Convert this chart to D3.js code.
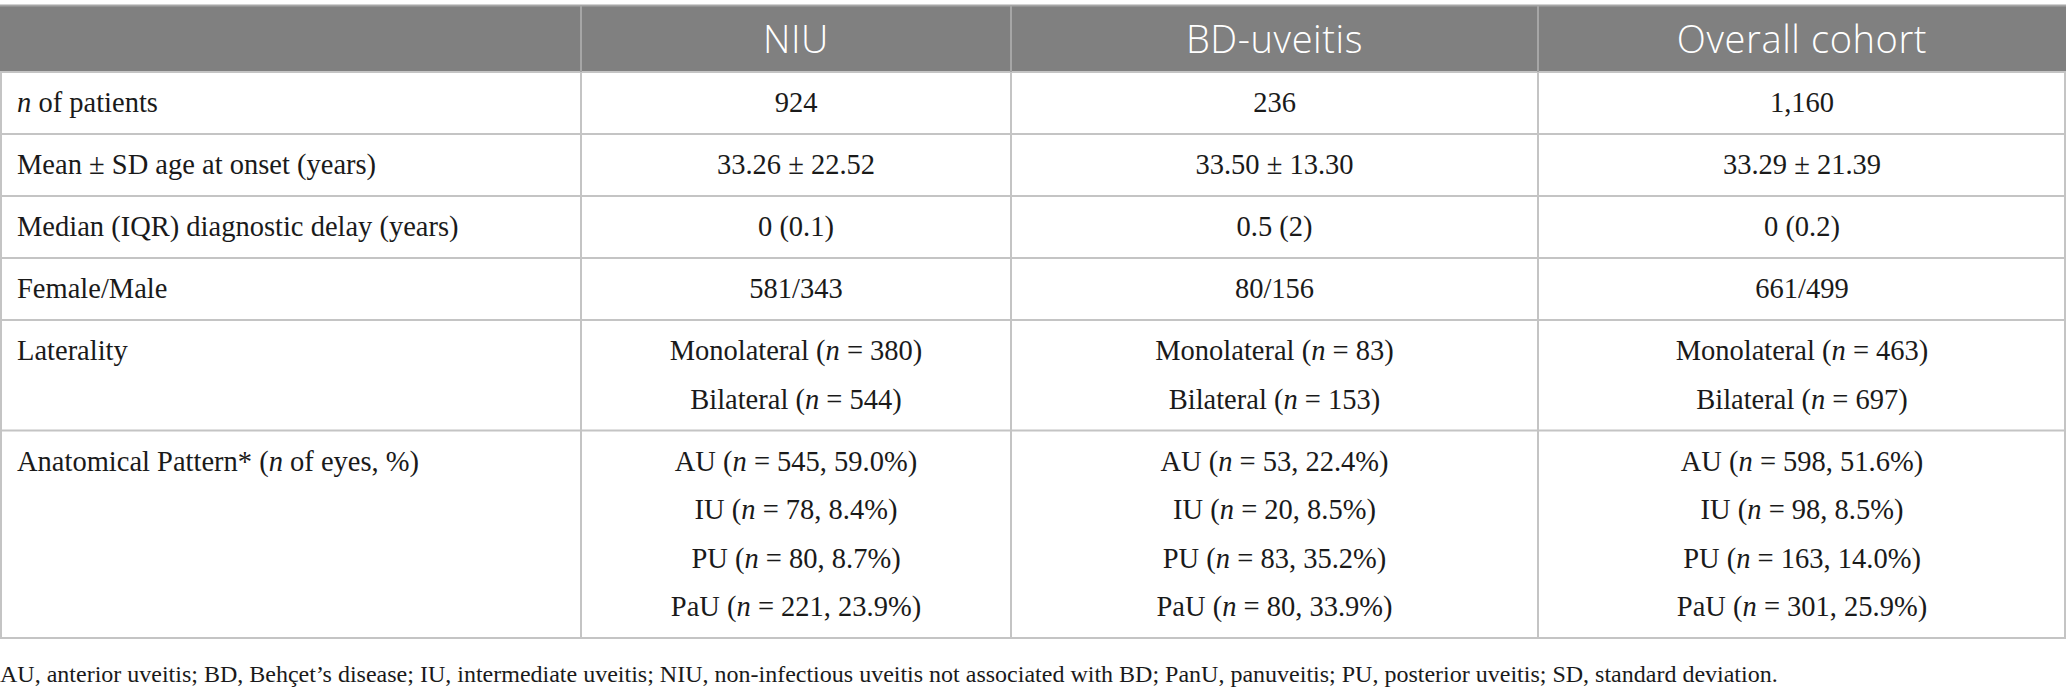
<!DOCTYPE html>
<html>
<head>
<meta charset="utf-8">
<script src="https://cdn.jsdelivr.net/npm/d3@7"></script>
<style>
  body { margin: 0; background: #fff; }
  svg { display: block; }
</style>
</head>
<body>
<svg id="chart" width="2067" height="693"></svg>
<script>
// table content (_n_ marks an italic n)
var columns = ["NIU", "BD-uveitis", "Overall cohort"];
var rowLabels = [
    "_n_ of patients",
    "Mean ± SD age at onset (years)",
    "Median (IQR) diagnostic delay (years)",
    "Female/Male",
    "Laterality",
    "Anatomical Pattern* (_n_ of eyes, %)"
];
var niu = [
    ["924"],
    ["33.26 ± 22.52"],
    ["0 (0.1)"],
    ["581/343"],
    ["Monolateral (_n_ = 380)", "Bilateral (_n_ = 544)"],
    ["AU (_n_ = 545, 59.0%)", "IU (_n_ = 78, 8.4%)", "PU (_n_ = 80, 8.7%)", "PaU (_n_ = 221, 23.9%)"]
];
var bdUveitis = [
    ["236"],
    ["33.50 ± 13.30"],
    ["0.5 (2)"],
    ["80/156"],
    ["Monolateral (_n_ = 83)", "Bilateral (_n_ = 153)"],
    ["AU (_n_ = 53, 22.4%)", "IU (_n_ = 20, 8.5%)", "PU (_n_ = 83, 35.2%)", "PaU (_n_ = 80, 33.9%)"]
];
var overall = [
    ["1,160"],
    ["33.29 ± 21.39"],
    ["0 (0.2)"],
    ["661/499"],
    ["Monolateral (_n_ = 463)", "Bilateral (_n_ = 697)"],
    ["AU (_n_ = 598, 51.6%)", "IU (_n_ = 98, 8.5%)", "PU (_n_ = 163, 14.0%)", "PaU (_n_ = 301, 25.9%)"]
];
var footnote = "AU, anterior uveitis; BD, Behçet’s disease; IU, intermediate uveitis; NIU, non-infectious uveitis not associated with BD; PanU, panuveitis; PU, posterior uveitis; SD, standard deviation.";

var svg = d3.select("#chart");

var tableTop = 5, headerH = 67, baseRowH = 62, lineGap = 48.5;
var colWidths = [581, 430, 527, 528];
var serif = "'Liberation Serif', 'Times New Roman', serif";
var sans = "'Open Sans', 'Noto Sans', sans-serif";

// column edges through ordinal scales
var colKeys = ["label"].concat(columns);
var colEdges = d3.cumsum([0].concat(colWidths));
var xLeft = d3.scaleOrdinal().domain(colKeys).range(colEdges.slice(0, 4));
var xWidth = d3.scaleOrdinal().domain(colKeys).range(colWidths);
var tableRight = colEdges[4];

var seriesByCol = { "NIU": niu, "BD-uveitis": bdUveitis, "Overall cohort": overall };

// rows: heights depend on number of lines
var rows = rowLabels.map(function (lab, i) {
    var n = d3.max(columns, function (c) { return seriesByCol[c][i].length; });
    return { label: lab, lines: n, h: baseRowH + (n - 1) * lineGap, idx: i };
});
var rowTops = d3.cumsum([tableTop + headerH].concat(rows.map(function (r) { return r.h; })));
var yTop = d3.scaleOrdinal().domain(d3.range(rows.length)).range(rowTops.slice(0, rows.length));
var tableBottom = rowTops[rows.length];

// header background
svg.append("rect")
    .attr("x", 0).attr("y", tableTop)
    .attr("width", tableRight).attr("height", headerH)
    .attr("fill", "#808080");

svg.append("line")
    .attr("x1", 0).attr("x2", tableRight)
    .attr("y1", tableTop + 0.5).attr("y2", tableTop + 0.5)
    .attr("stroke", "#a6a6a6").attr("stroke-width", 2);

// header text
svg.selectAll(".head")
    .data(columns)
    .enter().append("text")
    .attr("x", function (d) { return xLeft(d) + xWidth(d) / 2; })
    .attr("y", tableTop + headerH / 2 + 14)
    .attr("text-anchor", "middle")
    .attr("fill", "#fff")
    .style("font-family", sans)
    .style("font-weight", 300)
    .style("font-size", "38px")
    .style("letter-spacing", "0.6px")
    .text(function (d) { return d; });

// horizontal row lines
svg.selectAll(".hline")
    .data(rowTops)
    .enter().append("line")
    .attr("x1", 0).attr("x2", tableRight)
    .attr("y1", function (d) { return d; }).attr("y2", function (d) { return d; })
    .attr("stroke", "#c4c4c4").attr("stroke-width", 2);

// vertical lines
svg.selectAll(".vline")
    .data(colEdges)
    .enter().append("line")
    .attr("x1", function (d) { return d === 0 ? 1 : (d === tableRight ? tableRight - 1 : d); })
    .attr("x2", function (d) { return d === 0 ? 1 : (d === tableRight ? tableRight - 1 : d); })
    .attr("y1", function (d) { return (d === 0 || d === tableRight) ? tableTop + headerH : tableTop; })
    .attr("y2", tableBottom)
    .attr("stroke", "#c4c4c4")
    .attr("stroke-width", 2);

// header inner dividers, lighter over grey
svg.selectAll(".hdiv")
    .data(colEdges.slice(1, 4))
    .enter().append("line")
    .attr("x1", function (d) { return d; }).attr("x2", function (d) { return d; })
    .attr("y1", tableTop).attr("y2", tableTop + headerH)
    .attr("stroke", "#a6a6a6").attr("stroke-width", 2);

// rich text writer: _n_ -> italic
function writeRich(sel, str) {
    str.split("_").forEach(function (part, k) {
        if (part === "") return;
        sel.append("tspan")
            .style("font-style", k % 2 === 1 ? "italic" : "normal")
            .text(part);
    });
}

var fontSize = 28.5;
function lineY(r, j) { return yTop(r.idx) + 31 + j * lineGap + 9; }

// row labels
svg.selectAll(".rowlab")
    .data(rows)
    .enter().append("text")
    .attr("x", xLeft("label") + 17)
    .attr("y", function (r) { return lineY(r, 0); })
    .attr("fill", "#1a1a1a")
    .style("font-family", serif)
    .style("font-size", fontSize + "px")
    .each(function (r) { writeRich(d3.select(this), r.label); });

// cell values
columns.forEach(function (c) {
    var cells = [];
    rows.forEach(function (r) {
        seriesByCol[c][r.idx].forEach(function (v, j) {
            cells.push({ row: r, j: j, text: v });
        });
    });
    svg.selectAll(null)
        .data(cells)
        .enter().append("text")
        .attr("x", xLeft(c) + xWidth(c) / 2)
        .attr("y", function (d) { return lineY(d.row, d.j); })
        .attr("text-anchor", "middle")
        .attr("fill", "#1a1a1a")
        .style("font-family", serif)
        .style("font-size", fontSize + "px")
        .each(function (d) { writeRich(d3.select(this), d.text); });
});

// footnote
svg.append("text")
    .attr("x", 0)
    .attr("y", tableBottom + 44)
    .attr("fill", "#1a1a1a")
    .style("font-family", serif)
    .style("font-size", "24px")
    .text(footnote);
</script>
</body>
</html>
